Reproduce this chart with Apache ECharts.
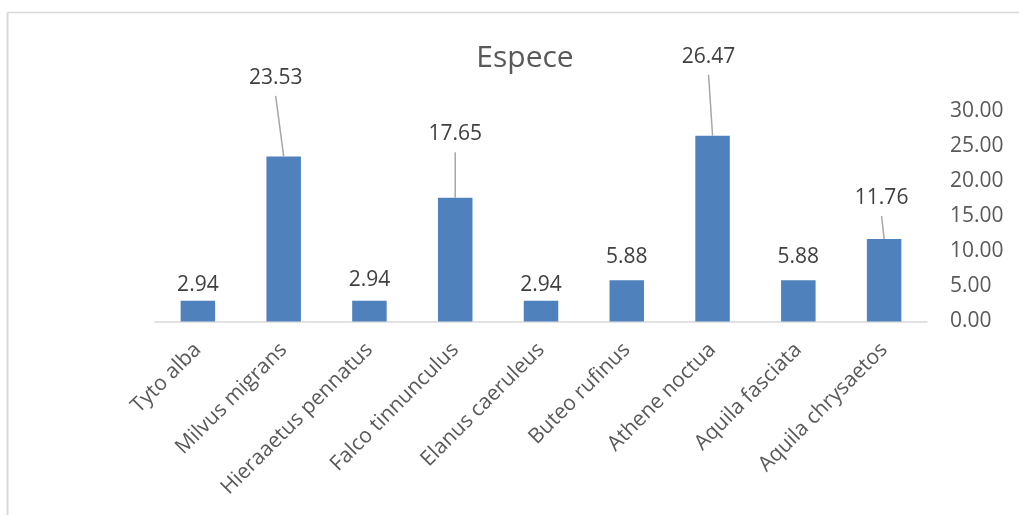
<!DOCTYPE html>
<html>
<head>
<meta charset="utf-8">
<title>Espece</title>
<script src="https://cdn.jsdelivr.net/npm/echarts@6/dist/echarts.min.js"></script>
<style>
  html, body { margin: 0; padding: 0; background: #ffffff; }
  #chart { width: 1019px; height: 515px; }
</style>
</head>
<body>
<div id="chart"></div>
<script>
// Species and their share (%)
const categories = [
  'Tyto alba', 'Milvus migrans', 'Hieraaetus pennatus', 'Falco tinnunculus',
  'Elanus caeruleus', 'Buteo rufinus', 'Athene noctua', 'Aquila fasciata', 'Aquila chrysaetos'
];
const values = [2.94, 23.53, 2.94, 17.65, 2.94, 5.88, 26.47, 5.88, 11.76];
// Which value labels are tied to their bar with a leader line
const hasLeader = [false, true, false, true, false, false, true, false, true];

// Label placement: height of the label centre above the bar top, and sideways shift (px)
const labelLift = [16, 78.5, 21, 63.5, 16, 23, 79, 23, 41];
const labelShift = [0, -8, 0, 0, 0, 0, -4, 0, -2.5];
const leaderGap = 18;

const FONT = '"Open Sans", "Liberation Sans", sans-serif';

const chart = echarts.init(document.getElementById('chart'), null, { renderer: 'canvas' });

const leaderData = [];
values.forEach((v, i) => { if (hasLeader[i]) leaderData.push([i, v]); });

chart.setOption({
  animation: false,
  backgroundColor: '#ffffff',
  title: {
    text: 'Espece',
    left: 520,
    textAlign: 'center',
    top: 38,
    textStyle: { fontFamily: FONT, fontSize: 30, fontWeight: 'normal', color: '#595959' }
  },
  graphic: [
    { type: 'line', shape: { x1: 7.5, y1: 12.5, x2: 1019, y2: 12.5 }, style: { stroke: '#d9d9d9', lineWidth: 1.5 }, silent: true },
    { type: 'line', shape: { x1: 7.5, y1: 12.5, x2: 7.5, y2: 515 }, style: { stroke: '#d9d9d9', lineWidth: 2 }, silent: true }
  ],
  grid: { left: 155, right: 92, top: 111, bottom: 193.5 },
  xAxis: {
    type: 'category',
    data: categories,
    axisLine: { show: true, lineStyle: { color: '#d9d9d9', width: 1.5 } },
    axisTick: { show: false },
    axisLabel: {
      rotate: 45,
      interval: 0,
      margin: 25,
      fontFamily: FONT,
      fontSize: 21,
      color: '#595959'
    }
  },
  yAxis: {
    type: 'value',
    position: 'right',
    min: 0,
    max: 30,
    interval: 5,
    axisLine: { show: false },
    axisTick: { show: false },
    splitLine: { show: false },
    axisLabel: {
      margin: 23,
      fontFamily: FONT,
      fontSize: 21,
      color: '#595959',
      formatter: v => v.toFixed(2)
    }
  },
  series: [
    {
      type: 'bar',
      data: values,
      barWidth: 34.5,
      itemStyle: { color: '#4f81bd' },
      label: {
        show: true,
        position: 'top',
        fontFamily: FONT,
        fontSize: 21,
        color: '#404040',
        formatter: p => p.value.toFixed(2)
      },
      labelLayout: function (p) {
        const i = p.dataIndex;
        return {
          x: p.rect.x + p.rect.width / 2 + labelShift[i],
          y: p.rect.y - labelLift[i],
          align: 'center',
          verticalAlign: 'middle'
        };
      },
      z: 2
    },
    {
      // leader lines from the lifted labels down to the bar tops
      type: 'custom',
      data: leaderData,
      silent: true,
      z: 3,
      renderItem: function (params, api) {
        const idx = api.value(0);
        const top = api.coord([idx, api.value(1)]);
        return {
          type: 'line',
          shape: {
            x1: top[0] + labelShift[idx],
            y1: top[1] - labelLift[idx] + leaderGap,
            x2: top[0],
            y2: top[1]
          },
          style: { stroke: '#a6a6a6', lineWidth: 1.5 }
        };
      }
    }
  ]
});
</script>
</body>
</html>
